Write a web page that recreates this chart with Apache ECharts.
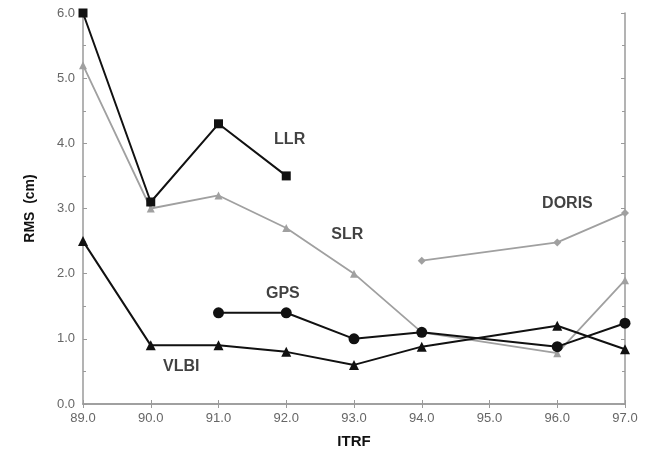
<!DOCTYPE html>
<html>
<head>
<meta charset="utf-8">
<script src="https://cdn.jsdelivr.net/npm/echarts@6/dist/echarts.min.js"></script>
<style>
  html, body { margin: 0; padding: 0; background: #fff; }
  #main { width: 655px; height: 460px; }
</style>
</head>
<body>
<div id="main"></div>
<script>
// ITRF solutions on the x axis, RMS in cm
const llr = [[89, 6.0], [90, 3.1], [91, 4.3], [92, 3.5]]
const slr = [[89, 5.2], [90, 3.0], [91, 3.2], [92, 2.7], [93, 2.0], [94, 1.1], [96, 0.78], [97, 1.9]]
const doris = [[94, 2.2], [96, 2.48], [97, 2.93]]
const gps = [[91, 1.4], [92, 1.4], [93, 1.0], [94, 1.1], [96, 0.88], [97, 1.24]]
const vlbi = [[89, 2.5], [90, 0.9], [91, 0.9], [92, 0.8], [93, 0.6], [94, 0.88], [96, 1.2], [97, 0.84]]
// where the technique names sit (data units)
const tags = [
  { name: 'LLR', at: [92.05, 4.05] },
  { name: 'SLR', at: [92.9, 2.6] },
  { name: 'DORIS', at: [96.15, 3.07] },
  { name: 'GPS', at: [91.95, 1.69] },
  { name: 'VLBI', at: [90.45, 0.57] }
]

const chart = echarts.init(document.getElementById('main'))
const axisGrey = '#9a9a9a'
const labelStyle = { color: '#666', fontSize: 13, fontFamily: 'Liberation Sans' }

const line = (data, color, symbol, size, width) => ({
  type: 'line',
  data: data,
  symbol: symbol,
  symbolSize: size,
  lineStyle: { color: color, width: width },
  itemStyle: { color: color },
  z: color === '#111' ? 3 : 2
})

chart.setOption({
  animation: false,
  grid: { left: 83, right: 30, top: 13, bottom: 56 },
  xAxis: [{
    type: 'value', min: 89, max: 97, interval: 1,
    name: 'ITRF', nameLocation: 'middle', nameGap: 30,
    nameTextStyle: { fontWeight: 'bold', fontSize: 15, color: '#111', fontFamily: 'Liberation Sans', padding: [0, 0, 0, 0] },
    axisLine: { lineStyle: { color: axisGrey, width: 1.5 } },
    axisTick: { inside: true, length: 4, lineStyle: { color: axisGrey } },
    axisLabel: Object.assign({ formatter: v => v.toFixed(1), margin: 8 }, labelStyle),
    splitLine: { show: false }
  }, {
    type: 'value', min: 89, max: 97, interval: 1, position: 'top',
    axisLine: { show: true, lineStyle: { color: axisGrey, width: 1.5 } },
    axisTick: { inside: true, length: 4, lineStyle: { color: axisGrey } },
    axisLabel: { show: false },
    splitLine: { show: false }
  }],
  yAxis: [{
    type: 'value', min: 0, max: 6, interval: 1,
    name: 'RMS  (cm)', nameLocation: 'middle', nameGap: 46, nameRotate: 90,
    nameTextStyle: { fontWeight: 'bold', fontSize: 14, color: '#111', fontFamily: 'Liberation Sans' },
    axisLine: { show: true, lineStyle: { color: axisGrey, width: 1.5 } },
    axisTick: { inside: true, length: 4, lineStyle: { color: axisGrey } },
    minorTick: { show: true, splitNumber: 2, length: 3, lineStyle: { color: axisGrey } },
    axisLabel: Object.assign({ formatter: v => v.toFixed(1), margin: 8 }, labelStyle),
    splitLine: { show: false }
  }, {
    type: 'value', min: 0, max: 6, interval: 1, position: 'right',
    axisLine: { show: true, lineStyle: { color: axisGrey, width: 1.5 } },
    axisTick: { inside: true, length: 4, lineStyle: { color: axisGrey } },
    minorTick: { show: true, splitNumber: 2, length: 3, lineStyle: { color: axisGrey } },
    axisLabel: { show: false },
    splitLine: { show: false }
  }],
  series: [
    line(slr, '#a0a0a0', 'triangle', 8, 1.8),
    line(doris, '#a0a0a0', 'diamond', 8, 1.8),
    line(llr, '#111', 'rect', 9, 2),
    line(gps, '#111', 'circle', 11, 2),
    line(vlbi, '#111', 'triangle', 10, 2),
    {
      type: 'scatter',
      data: tags.map(t => ({ value: t.at, name: t.name })),
      symbolSize: 0,
      silent: true,
      label: {
        show: true, position: 'inside', formatter: '{b}',
        fontWeight: 'bold', fontSize: 16, color: '#111', fontFamily: 'Liberation Sans'
      },
      z: 5
    }
  ]
})
</script>
</body>
</html>
